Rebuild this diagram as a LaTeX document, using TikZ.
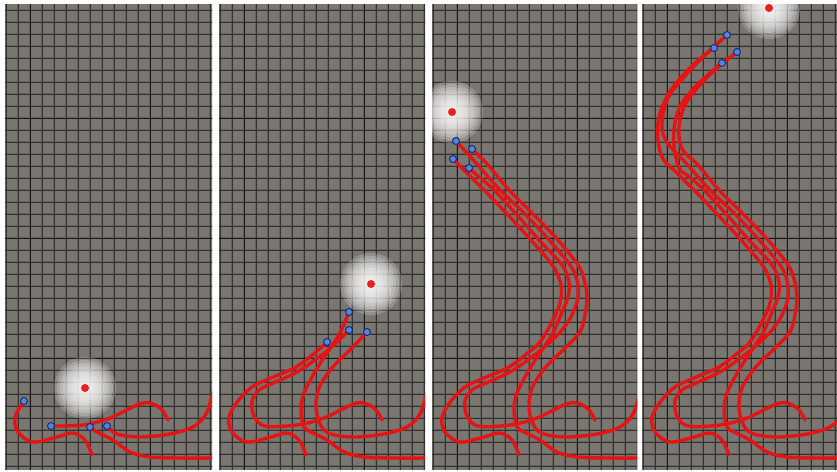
\documentclass[tikz,border=0pt]{standalone}
\definecolor{cellbg}{RGB}{122,118,113}
\definecolor{gridsoft}{RGB}{102,98,94}
\definecolor{gridline}{RGB}{52,50,47}
\definecolor{gridmajor}{RGB}{26,25,24}
\definecolor{trail}{RGB}{228,20,20}
\definecolor{lightdot}{RGB}{236,30,30}
\definecolor{robot}{RGB}{82,132,232}
\definecolor{robotedge}{RGB}{24,40,100}
\tikzset{
  trailpath/.style={draw=trail, line width=3.4pt, line cap=round, line join=round},
  robotdot/.style={circle, fill=robot, draw=robotedge, line width=0.9pt, minimum size=7pt, inner sep=0pt},
  lampdot/.style={circle, fill=lightdot, minimum size=8pt, inner sep=0pt},
  gridsoftline/.style={draw=gridsoft, line width=2.6pt},
  gridthin/.style={draw=gridline, line width=0.8pt},
  gridthick/.style={draw=gridmajor, line width=1.0pt},
}
\newcommand\panelgrid{%
  \fill[cellbg] (0,4) rectangle (210,470);
  \foreach \gx in {1,13,...,205} \draw[gridsoftline] (\gx,4) -- (\gx,470);
  \foreach \gy in {10,22,...,466} \draw[gridsoftline] (0,\gy) -- (210,\gy);
  \foreach \gx in {1,13,...,205} \draw[gridthin] (\gx,4) -- (\gx,470);
  \foreach \gy in {10,22,...,466} \draw[gridthin] (0,\gy) -- (210,\gy);
  \foreach \gx in {25,145} \draw[gridthick] (\gx,4) -- (\gx,470);
  \foreach \gy in {118,238,358} \draw[gridthick] (0,\gy) -- (210,\gy);
}
\newcommand\lampglow[2]{%
  \foreach \gr in {31,28,...,4} \fill[white,opacity=0.2] #2 circle (\gr);
  \node[lampdot] (#1) at #2 {};
}
\newcommand\trailplot[1]{%
  \edef\tmptrailcmd{\noexpand\draw[trailpath] plot[smooth, tension=0.55] coordinates {#1};}%
  \tmptrailcmd}
% trajectories, panel-local pixel coordinates
\def\Aone{(87,455) (80,440) (68,433) (52,437) (28,442) (13,432) (10,417) (19,401)}
\def\Atwo{(33,387) (52,378) (77,367) (97,352) (108,342)}
\def\Athree{(120,322) (128,303) (129,285) (121,266) (99,240) (76,215) (52,190) (34,172) (21,159)}
\def\Afour{(16,140) (17,117) (27,93) (43,73) (60,57) (72,48)}
\def\Bone{(163,420) (155,408) (138,403) (105,418) (78,425) (46,426)}
\def\Btwo{(35,416) (33,401) (40,390) (52,384) (78,372) (100,357) (117,343) (130,330)}
\def\Bthree{(140,315) (146,298) (145,280) (138,265) (117,240) (94,215) (68,190) (44,163) (24,141)}
\def\Bfour{(20,122) (26,98) (42,77) (62,56) (85,35)}
\def\Cone{(210,458) (175,458) (145,457) (125,452) (108,440) (92,432) (85,427)}
\def\Ctwo{(82,410) (85,393) (97,370) (110,350) (121,333) (130,312)}
\def\Cthree{(136,297) (137,282) (130,265) (107,240) (85,215) (62,190) (46,176) (37,168)}
\def\Cfour{(32,145) (33,122) (40,103) (53,87) (67,74) (80,63)}
\def\Done{(208,392) (201,414) (188,427) (165,434) (135,437) (112,434) (102,426)}
\def\Dtwo{(97,408) (100,388) (113,368) (133,348) (148,332)}
\def\Dthree{(153,315) (155,297) (152,279) (146,265) (126,240) (102,215) (77,190) (56,165) (40,149)}
\def\Dfour{(37,127) (43,105) (57,86) (75,68) (95,52)}
\begin{document}
\begin{tikzpicture}[x=1pt,y=-1pt]
\fill[white] (0,0) rectangle (837,471);
\useasboundingbox (0,0) rectangle (837,471);
% panel 1
\begin{scope}[shift={(5,0)}]
  \clip (0,4) rectangle (207,470);
  \panelgrid
  \lampglow{lampa}{(80,388)}
  \trailplot{\Aone}
  \trailplot{\Bone}
  \trailplot{\Cone}
  \trailplot{\Done}
  \node[robotdot] (p1a) at (19,401) {};
  \node[robotdot] (p1b) at (46,426) {};
  \node[robotdot] (p1c) at (85,427) {};
  \node[robotdot] (p1d) at (102,426) {};
\end{scope}
% panel 2
\begin{scope}[shift={(219,0)}]
  \clip (0,4) rectangle (206,470);
  \panelgrid
  \lampglow{lampb}{(152,284)}
  \trailplot{\Aone\Atwo}
  \trailplot{\Bone\Btwo}
  \trailplot{\Cone\Ctwo}
  \trailplot{\Done\Dtwo}
  \node[robotdot] (p2a) at (108,342) {};
  \node[robotdot] (p2b) at (130,330) {};
  \node[robotdot] (p2c) at (130,312) {};
  \node[robotdot] (p2d) at (148,332) {};
\end{scope}
% panel 3
\begin{scope}[shift={(432,0)}]
  \clip (0,4) rectangle (205,470);
  \panelgrid
  \lampglow{lampc}{(20,112)}
  \trailplot{\Aone\Atwo\Athree}
  \trailplot{\Bone\Btwo\Bthree}
  \trailplot{\Cone\Ctwo\Cthree}
  \trailplot{\Done\Dtwo\Dthree}
  \node[robotdot] (p3a) at (21,159) {};
  \node[robotdot] (p3b) at (24,141) {};
  \node[robotdot] (p3c) at (37,168) {};
  \node[robotdot] (p3d) at (40,149) {};
\end{scope}
% panel 4
\begin{scope}[shift={(642,0)}]
  \clip (0,4) rectangle (195,470);
  \panelgrid
  \lampglow{lampd}{(127,8)}
  \trailplot{\Aone\Atwo\Athree\Afour}
  \trailplot{\Bone\Btwo\Bthree\Bfour}
  \trailplot{\Cone\Ctwo\Cthree\Cfour}
  \trailplot{\Done\Dtwo\Dthree\Dfour}
  \node[robotdot] (p4a) at (72,48) {};
  \node[robotdot] (p4b) at (85,35) {};
  \node[robotdot] (p4c) at (80,63) {};
  \node[robotdot] (p4d) at (95,52) {};
\end{scope}
\end{tikzpicture}
\end{document}
